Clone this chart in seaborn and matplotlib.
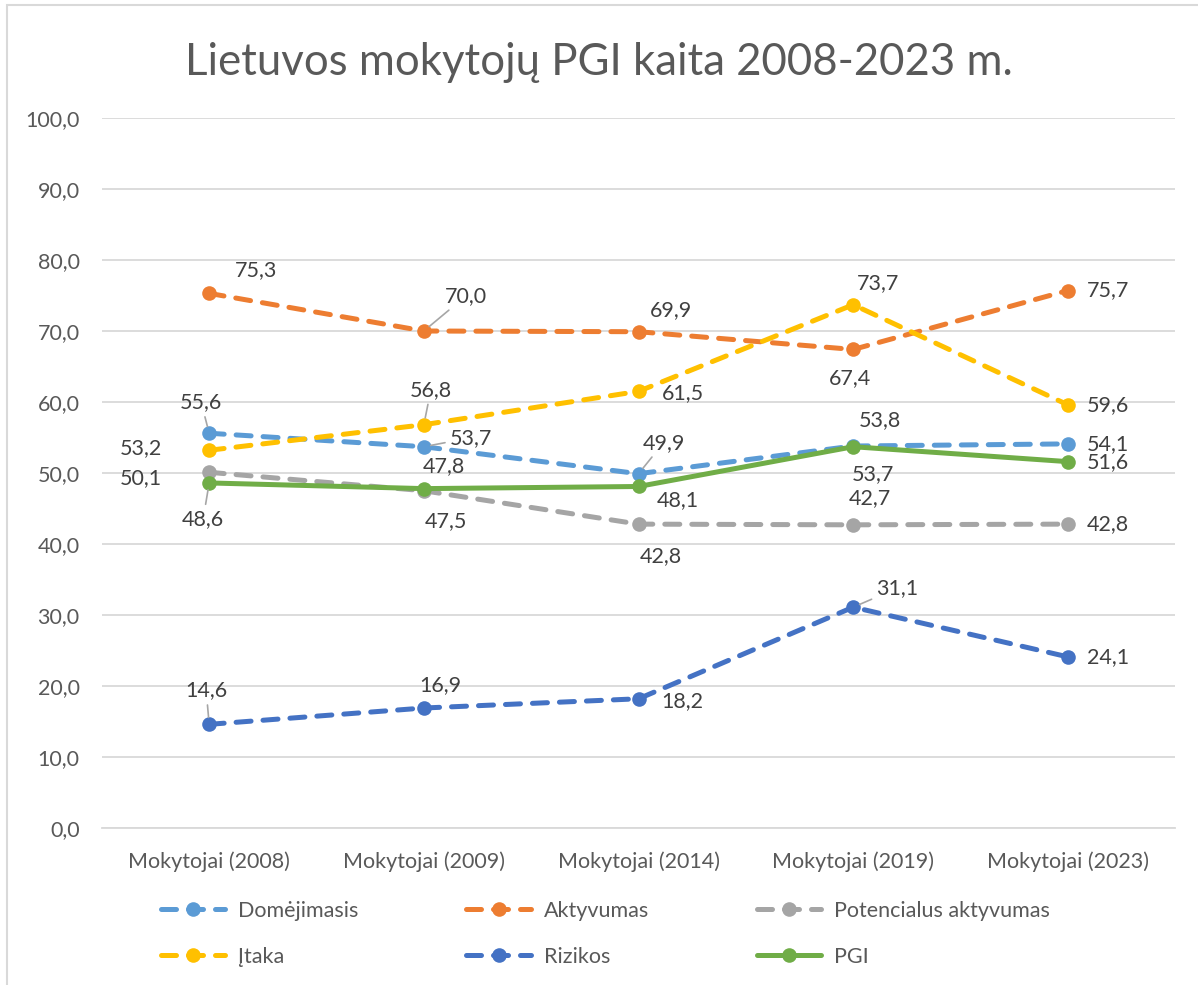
import pandas as pd
import matplotlib.pyplot as plt
import seaborn as sns
from matplotlib.patches import Rectangle

# ===== Data =====
groups = ["Mokytojai (2008)", "Mokytojai (2009)", "Mokytojai (2014)",
          "Mokytojai (2019)", "Mokytojai (2023)"]
domejimasis = [55.6, 53.7, 49.9, 53.8, 54.1]
aktyvumas = [75.3, 70.0, 69.9, 67.4, 75.7]
potencialus = [50.1, 47.5, 42.8, 42.7, 42.8]
itaka = [53.2, 56.8, 61.5, 73.7, 59.6]
rizikos = [14.6, 16.9, 18.2, 31.1, 24.1]
pgi = [48.6, 47.8, 48.1, 53.7, 51.6]

series = [
    ("Domėjimasis", domejimasis, "#5B9BD5", True),
    ("Aktyvumas", aktyvumas, "#ED7D31", True),
    ("Potencialus aktyvumas", potencialus, "#A5A5A5", True),
    ("Įtaka", itaka, "#FFC000", True),
    ("Rizikos", rizikos, "#4472C4", True),
    ("PGI", pgi, "#70AD47", False),
]

# label offsets in pixels (dx, dy) and whether a leader line is drawn
label_pos = {
    "Domėjimasis": [(-8, 31, True), (47, 9, True), (25, 31, True), (27, 26, False), (40, 0, False)],
    "Aktyvumas": [(47, 23, False), (42, 35, True), (32, 22, False), (-3, -29, False), (40, 0, False)],
    "Potencialus aktyvumas": [(-68, -6, False), (22, -30, False), (22, -32, False), (17, 27, False), (40, 0, False)],
    "Įtaka": [(-68, 2, False), (7, 35, True), (44, -2, False), (25, 22, False), (40, 0, False)],
    "Rizikos": [(-3, 34, True), (17, 23, False), (44, -2, False), (44, 19, True), (40, 0, False)],
    "PGI": [(-6, -36, True), (20, 23, False), (39, -14, False), (20, -27, False), (40, 0, False)],
}

sns.set_theme(style="white")
plt.rcParams['font.family'] = ['Lato', 'DejaVu Sans']
text_col = "#595959"

fig = plt.figure(figsize=(11.98, 9.85), dpi=100)
ax = fig.add_axes([0.085, 0.1594, 0.896, 0.7208])

handles = {}
for name, vals, color, dashed in series:
    df = pd.DataFrame({"group": groups, "value": vals})
    ls = (0, (3.0, 2.4)) if dashed else "-"
    sns.lineplot(data=df, x="group", y="value", ax=ax, color=color, lw=3.6,
                 linestyle=ls, dash_capstyle="round", marker="o", markersize=10.5,
                 markeredgewidth=0, sort=False, label=name, zorder=3)
    handles[name] = ax.get_lines()[-1]

    for i, v in enumerate(vals):
        dx, dy, leader = label_pos[name][i]
        txt = f"{v:.1f}".replace(".", ",")
        kw = {}
        if leader:
            kw["arrowprops"] = dict(arrowstyle="-", color="#A6A6A6", lw=1.2,
                                    shrinkA=1, shrinkB=5)
        ax.annotate(txt, (i, v), xytext=(dx, dy), textcoords="offset pixels",
                    ha="center", va="center", fontsize=15.5, color="#404040",
                    zorder=5, **kw)

ax.set_ylim(0, 100)
ax.set_xlim(-0.5, 4.5)
ax.set_yticks(range(0, 101, 10))
ax.set_yticklabels([f"{t:.1f}".replace(".", ",") for t in range(0, 101, 10)])
ax.yaxis.grid(True, color="#D9D9D9", lw=1.3)
ax.set_axisbelow(True)
for s in ["top", "right", "left"]:
    ax.spines[s].set_visible(False)
ax.spines["bottom"].set_color("#D9D9D9")
ax.spines["bottom"].set_linewidth(1.3)
ax.tick_params(axis="both", length=0, labelsize=15.5, labelcolor=text_col)
ax.tick_params(axis="y", pad=16)
ax.tick_params(axis="x", pad=17)
ax.set_xlabel("")
ax.set_ylabel("")
ax.get_legend().remove()

fig.suptitle("Lietuvos mokytojų PGI kaita 2008-2023 m.", y=0.957, fontsize=31.5,
             color=text_col)

order = ["Domėjimasis", "Įtaka", "Aktyvumas", "Rizikos", "Potencialus aktyvumas", "PGI"]
fig.legend([handles[n] for n in order], order, ncol=3, loc="center left",
           bbox_to_anchor=(0.118, 0.052), frameon=False, fontsize=15.5,
           labelcolor=text_col, handlelength=3.0, handletextpad=0.6,
           columnspacing=5.0, labelspacing=1.2)

# chart border (Excel chart area)
fig.patches.append(Rectangle((7 / 1198, -0.1), 1.2, 1 - 5 / 985 + 0.1,
                             transform=fig.transFigure, fill=False,
                             edgecolor="#D9D9D9", lw=1.5))

plt.savefig("out.png", dpi=100)
